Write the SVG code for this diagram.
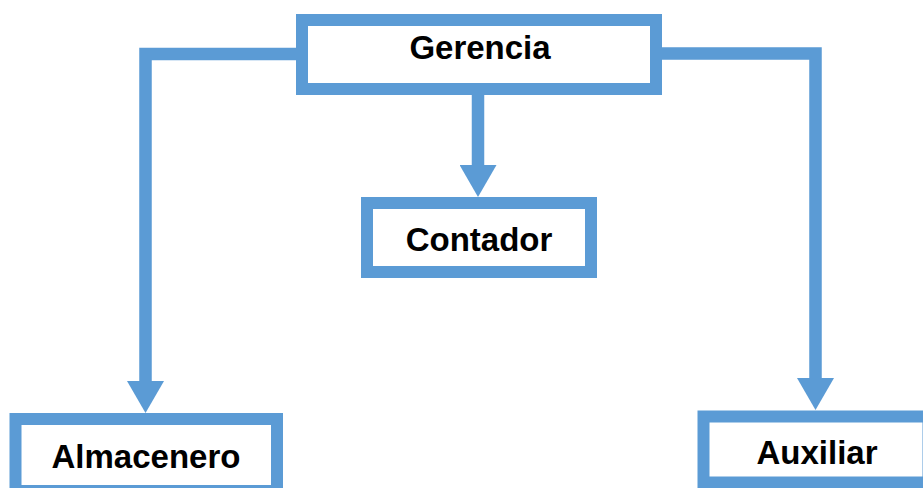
<svg xmlns="http://www.w3.org/2000/svg" width="923" height="488" viewBox="0 0 923 488">
<style>
.box{fill:#fff;stroke:#5B9BD5;stroke-width:12}
.lbl{font-family:"Liberation Sans",Arial,sans-serif;font-weight:bold;font-size:33px;fill:#000;text-anchor:middle}
.conn{fill:none;stroke:#5B9BD5;stroke-width:12.5;stroke-linejoin:miter}
</style>
<defs>
<marker id="ah" markerUnits="userSpaceOnUse" viewBox="0 0 32 37" refX="0" refY="18.5" markerWidth="32" markerHeight="37" orient="auto">
<path d="M0,0 L32,18.5 L0,37 Z" fill="#5B9BD5"/>
</marker>
</defs>
<rect width="923" height="488" fill="#fff"/>
<g id="connectors">
<path class="conn" d="M296,54 H145.5 V381" marker-end="url(#ah)"/>
<path class="conn" d="M478,95 V165" marker-end="url(#ah)"/>
<path class="conn" d="M662,53.5 H815.5 V378" marker-end="url(#ah)"/>
</g>
<g id="gerencia">
<rect class="box" x="302" y="20" width="354" height="69"/>
<text class="lbl" x="480" y="59">Gerencia</text>
</g>
<g id="contador">
<rect class="box" x="367" y="203" width="224" height="69"/>
<text class="lbl" x="479" y="251">Contador</text>
</g>
<g id="almacenero">
<rect class="box" x="15.5" y="419" width="261.5" height="72"/>
<text class="lbl" x="146" y="468">Almacenero</text>
</g>
<g id="auxiliar">
<rect class="box" x="703.5" y="416.5" width="225" height="66"/>
<text class="lbl" x="817" y="464">Auxiliar</text>
</g>
</svg>
